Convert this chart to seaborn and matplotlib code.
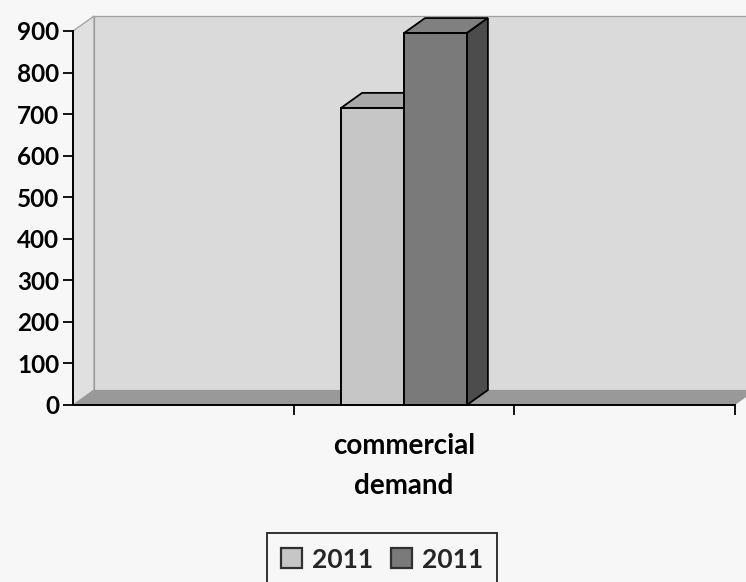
import matplotlib
matplotlib.use("Agg")
import matplotlib.pyplot as plt
from matplotlib.patches import Polygon, Patch, Rectangle
from matplotlib.transforms import IdentityTransform
import pandas as pd
import seaborn as sns

# ---- data ----
categories = ["commercial\ndemand"]
series_keys = ["first", "second"]
series_labels = ["2011", "2011"]
values_first = [715]
values_second = [895]
y_ticks = [0, 100, 200, 300, 400, 500, 600, 700, 800, 900]

df = pd.DataFrame({
    "category": categories * 2,
    "series": [series_keys[0]] * len(categories) + [series_keys[1]] * len(categories),
    "value": values_first + values_second,
})

# ---- style ----
sns.set_theme(style="white")
plt.rcParams["font.family"] = ["Lato", "DejaVu Sans"]
plt.rcParams["font.weight"] = "bold"

W, H = 746, 582
DPI = 100
fig = plt.figure(figsize=(W / DPI, H / DPI), dpi=DPI)
bg = "#f7f7f7"
fig.patch.set_facecolor(bg)

ax = fig.add_axes([73 / W, 177 / H, 662 / W, 374 / H])
ax.set_facecolor("none")

face_colors = ["#c6c6c6", "#7a7a7a"]
top_colors = ["#a9a9a9", "#808080"]
side_colors = ["#9a9a9a", "#4c4c4c"]
wall_color = "#dadada"
floor_color = "#999999"

sns.barplot(data=df, x="category", y="value", hue="series", hue_order=series_keys,
            palette=face_colors, saturation=1, width=0.57, edgecolor="black",
            linewidth=1.4, legend=False, ax=ax)

# the bar rectangles drawn by seaborn, left to right
bars = sorted([p for p in ax.patches if isinstance(p, Rectangle) and p.get_height() > 0],
              key=lambda p: p.get_x())

ax.set_xlim(-1.5, 1.5)
ax.set_ylim(0, 900)
ax.set_yticks(y_ticks)
ax.set_xlabel("")
ax.set_ylabel("")

# depth offset of the pseudo-3D box, in pixels
DX, DY = 21, 15

fig.canvas.draw()
to_disp = ax.transData.transform


def disp(x, y):
    return tuple(to_disp((x, y)))


def shift(p):
    return (p[0] + DX, p[1] + DY)


def add_poly(pts, fc, ec="none", lw=0.0, z=1):
    poly = Polygon(pts, closed=True, facecolor=fc, edgecolor=ec, linewidth=lw,
                   transform=IdentityTransform(), zorder=z, clip_on=False)
    ax.add_artist(poly)


x0, x1 = ax.get_xlim()
y0, y1 = ax.get_ylim()

# back wall, left side wall and floor
bl, tl, tr, br = disp(x0, y0), disp(x0, y1), disp(x1, y1), disp(x1, y0)
add_poly([shift(bl), shift(tl), shift(tr), shift(br)], wall_color, "#a0a0a0", 0.9, z=0.2)
add_poly([bl, tl, shift(tl), shift(bl)], "#e0e0e0", "#a0a0a0", 0.9, z=0.1)
add_poly([bl, br, shift(br), shift(bl)], floor_color, "none", 0, z=0.3)

# 3-D top and side faces of each bar
for i, bar in enumerate(bars):
    bx0 = bar.get_x()
    bx1 = bx0 + bar.get_width()
    h = bar.get_height()
    ftl, ftr, fbr = disp(bx0, h), disp(bx1, h), disp(bx1, 0)
    z = 2 + 2 * i
    add_poly([ftl, ftr, shift(ftr), shift(ftl)], top_colors[i], "black", 1.3, z=z)
    add_poly([fbr, ftr, shift(ftr), shift(fbr)], side_colors[i], "black", 1.3, z=z)
    bar.set_zorder(z + 1)
    bar.set_clip_on(False)

# axes lines and ticks
for s in ["top", "right"]:
    ax.spines[s].set_visible(False)
for s in ["left", "bottom"]:
    ax.spines[s].set_color("black")
    ax.spines[s].set_linewidth(1.4)
    ax.spines[s].set_zorder(10)

ax.tick_params(axis="y", direction="out", length=7, width=1.3, color="black",
               labelsize=17.5, labelcolor="black", pad=3, left=True)
ax.set_xticks([0])
ax.set_xticklabels(categories, fontsize=20, fontweight="bold", color="black",
                   linespacing=1.7)
ax.set_xticks([-0.5, 0.5, 1.5], minor=True)
ax.tick_params(axis="x", which="major", length=0, pad=20)
ax.tick_params(axis="x", which="minor", direction="out", length=7, width=1.3,
               color="black", bottom=True)
for lab in ax.get_yticklabels():
    lab.set_fontweight("bold")

# legend
handles = [Patch(facecolor=c, edgecolor="#303030", linewidth=1.6) for c in face_colors]
leg = fig.legend(handles, series_labels, loc="upper center",
                 bbox_to_anchor=(382 / W, 1 - 533 / H), ncol=2, frameon=True,
                 fontsize=19, handlelength=0.8, handleheight=0.8,
                 handletextpad=0.35, columnspacing=0.7, borderpad=0.55,
                 borderaxespad=0, fancybox=False)
leg.get_frame().set_edgecolor("black")
leg.get_frame().set_linewidth(1.4)
leg.get_frame().set_facecolor(bg)
for t in leg.get_texts():
    t.set_fontweight("bold")

fig.savefig("out.png", dpi=DPI, facecolor=fig.get_facecolor())
